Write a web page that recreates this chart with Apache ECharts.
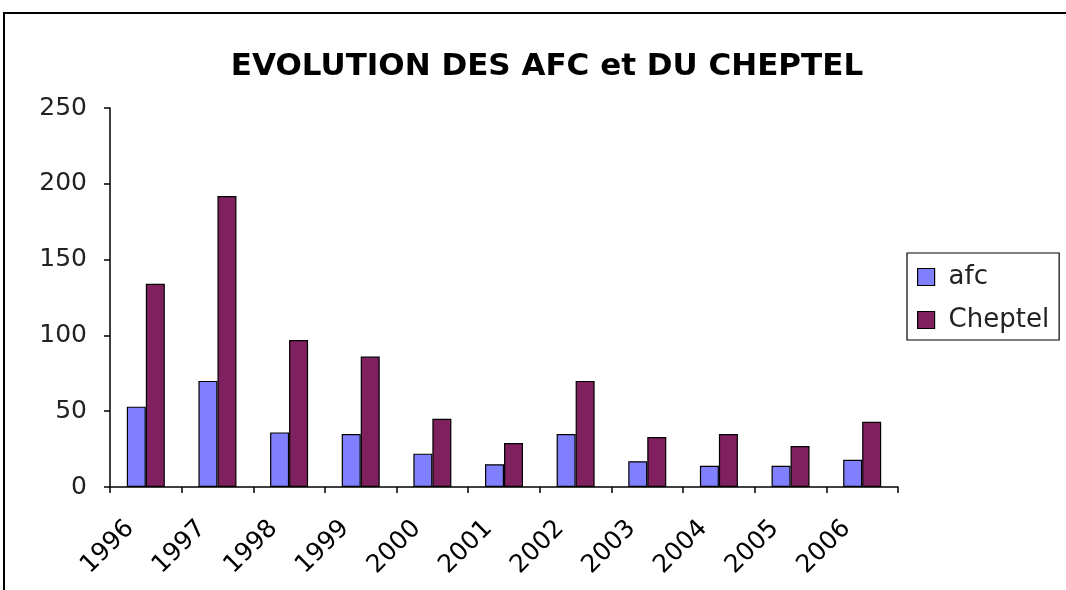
<!DOCTYPE html>
<html>
<head>
<meta charset="utf-8">
<script src="https://cdn.jsdelivr.net/npm/echarts@6/dist/echarts.min.js"></script>
<style>
html,body{margin:0;padding:0;background:#fff;}
#main{width:1066px;height:590px;}
</style>
</head>
<body>
<div id="main"></div>
<script>
const categories = ['1996','1997','1998','1999','2000','2001','2002','2003','2004','2005','2006'];
const afcValues = [53, 70, 36, 35, 22, 15, 35, 17, 14, 14, 18];
const cheptelValues = [134, 192, 97, 86, 45, 29, 70, 33, 35, 27, 43];
const yTicks = { min: 0, max: 250, interval: 50 };

const FONT = 'DejaVu Sans';
const chart = echarts.init(document.getElementById('main'), null, { renderer: 'canvas' });
chart.setOption({
  backgroundColor: '#fff',
  animation: false,
  graphic: [{
    type: 'rect', z: 100, silent: true,
    shape: { x: 4, y: 13, width: 1100, height: 620 },
    style: { fill: 'none', stroke: '#000', lineWidth: 2 }
  }],
  title: {
    text: 'EVOLUTION DES AFC et DU CHEPTEL',
    left: 542, top: 46, textAlign: 'center',
    textStyle: { fontFamily: FONT, fontSize: 31, fontWeight: 'bold', color: '#000' }
  },
  legend: {
    orient: 'vertical',
    left: 907, top: 253,
    width: 133,
    padding: [11, 10, 7, 10],
    itemGap: 17,
    itemWidth: 17, itemHeight: 17,
    borderColor: '#000', borderWidth: 1.2,
    icon: 'rect',
    itemStyle: { borderColor: '#000', borderWidth: 1.2 },
    textStyle: { fontFamily: FONT, fontSize: 26, color: '#222', lineHeight: 26, padding: [0, 0, 0, 9] },
    data: ['afc', 'Cheptel']
  },
  grid: { left: 110, right: 168, top: 108, bottom: 103, containLabel: false },
  xAxis: {
    type: 'category',
    data: categories,
    axisLine: { lineStyle: { color: '#000', width: 1.5 } },
    axisTick: { show: true, length: 6, lineStyle: { color: '#000', width: 1.5 } },
    axisLabel: { rotate: 45, margin: 22, padding: [0, 22, 0, 0], fontFamily: FONT, fontSize: 25, color: '#000', interval: 0 }
  },
  yAxis: {
    type: 'value',
    min: yTicks.min, max: yTicks.max, interval: yTicks.interval,
    splitLine: { show: false },
    axisLine: { show: true, lineStyle: { color: '#000', width: 1.5 } },
    axisTick: { show: true, length: 6, lineStyle: { color: '#000', width: 1.5 } },
    axisLabel: { margin: 23, fontFamily: FONT, fontSize: 25, color: '#222' }
  },
  series: [
    {
      name: 'afc', type: 'bar', data: afcValues,
      barWidth: 19, barGap: '0%',
      itemStyle: { color: '#8080FF', borderColor: '#000', borderWidth: 1.2 }
    },
    {
      name: 'Cheptel', type: 'bar', data: cheptelValues,
      barWidth: 19, barGap: '0%',
      itemStyle: { color: '#80205F', borderColor: '#000', borderWidth: 1.2 }
    }
  ]
});
</script>
</body>
</html>
